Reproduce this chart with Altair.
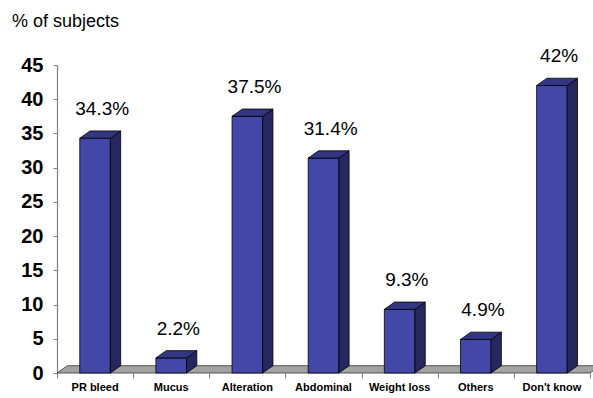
import altair as alt
import pandas as pd

# Symptoms reported, % of subjects
categories = ["PR bleed", "Mucus", "Alteration", "Abdominal", "Weight loss", "Others", "Don't know"]
percent = [34.3, 2.2, 37.5, 31.4, 9.3, 4.9, 42]
y_ticks = [0, 5, 10, 15, 20, 25, 30, 35, 40, 45]

FONT = "Liberation Sans, Arial, Helvetica, sans-serif"
FRONT = "#4348A8"
SIDE = "#25275E"
TOP = "#323683"
FLOOR = "#A3A3A3"
AXIS_GREY = "#7F7F7F"

W, H = 533, 308
N = len(categories)
Y_MAX = y_ticks[-1]
px_x = W / N          # pixels per category slot
px_y = H / Y_MAX      # pixels per percentage point

# 3D depth and bar half-width, converted from pixels into data units
DEPTH_X = 10.3 / px_x
DEPTH_Y = 7.3 / px_y
HALF = 15.3 / px_x

x_scale = alt.Scale(domain=[0, N], nice=False, zero=False)
y_scale = alt.Scale(domain=[0, Y_MAX], nice=False, zero=False)

# one axis definition shared by every layer so the merged axes keep it
X_AXIS = alt.Axis(
    values=list(range(N + 1)), labels=False, title=None, grid=False,
    domain=False, tickSize=5, tickColor=AXIS_GREY)
Y_AXIS = alt.Axis(
    values=y_ticks, title=None, grid=False, labelFont=FONT, labelFontSize=20,
    labelFontWeight="bold", labelColor="black", labelPadding=10, tickSize=4,
    tickColor=AXIS_GREY, domainColor=AXIS_GREY, domainWidth=1.2)

bars = pd.DataFrame({"cat": categories, "value": percent})
bars["mid"] = [i + 0.5 for i in range(N)]
bars["xl"] = bars["mid"] - HALF
bars["xr"] = bars["mid"] + HALF
bars["label"] = [f"{v:g}%" for v in percent]
bars["lx"] = bars["mid"] + DEPTH_X / 2 + 2 / px_x
bars["ly"] = bars["value"] + DEPTH_Y
bars["base"] = 0.0

# right-hand faces: vertical parallelograms
side_rows = []
for _, r in bars.iterrows():
    side_rows.append({"cat": r["cat"], "x": r["xr"], "lo": 0.0, "hi": r["value"]})
    side_rows.append({"cat": r["cat"], "x": r["xr"] + DEPTH_X, "lo": DEPTH_Y, "hi": r["value"] + DEPTH_Y})
side = pd.DataFrame(side_rows)

# top faces: horizontal parallelograms
top_rows = []
for _, r in bars.iterrows():
    top_rows.append({"cat": r["cat"], "y": r["value"], "x1": r["xl"], "x2": r["xr"]})
    top_rows.append({"cat": r["cat"], "y": r["value"] + DEPTH_Y, "x1": r["xl"] + DEPTH_X, "x2": r["xr"] + DEPTH_X})
top = pd.DataFrame(top_rows)

floor = pd.DataFrame({
    "y": [0.0, DEPTH_Y],
    "x1": [0.0, DEPTH_X],
    "x2": [float(N), N + DEPTH_X],
})

floor_layer = alt.Chart(floor).mark_area(
    orient="horizontal", fill=FLOOR, stroke="#333333", strokeWidth=0.8
).encode(
    y=alt.Y("y:Q", scale=y_scale, axis=Y_AXIS),
    x=alt.X("x1:Q", scale=x_scale, axis=X_AXIS),
    x2="x2:Q",
)

front_layer = alt.Chart(bars).mark_rect(
    fill=FRONT, stroke="black", strokeWidth=0.8
).encode(
    x=alt.X("xl:Q", scale=x_scale, axis=X_AXIS),
    x2="xr:Q",
    y=alt.Y("base:Q", scale=y_scale, axis=Y_AXIS),
    y2="value:Q",
)

side_layer = alt.Chart(side).mark_area(
    fill=SIDE, stroke="black", strokeWidth=0.8
).encode(
    x=alt.X("x:Q", scale=x_scale, axis=X_AXIS),
    y=alt.Y("hi:Q", scale=y_scale, axis=Y_AXIS),
    y2="lo:Q",
    detail="cat:N",
)

top_layer = alt.Chart(top).mark_area(
    orient="horizontal", fill=TOP, stroke="black", strokeWidth=0.8
).encode(
    y=alt.Y("y:Q", scale=y_scale, axis=Y_AXIS),
    x=alt.X("x1:Q", scale=x_scale, axis=X_AXIS),
    x2="x2:Q",
    detail="cat:N",
)

value_labels = alt.Chart(bars).mark_text(
    font=FONT, fontSize=19, color="black", baseline="alphabetic", dy=-16
).encode(
    x=alt.X("lx:Q", scale=x_scale, axis=X_AXIS),
    y=alt.Y("ly:Q", scale=y_scale, axis=Y_AXIS),
    text="label:N",
)

cat_labels = alt.Chart(bars).mark_text(
    font=FONT, fontSize=11, fontWeight="bold", color="black", baseline="alphabetic", dy=18
).encode(
    x=alt.X("mid:Q", scale=x_scale, axis=X_AXIS),
    y=alt.Y("base:Q", scale=y_scale, axis=Y_AXIS),
    text="cat:N",
)

y_title = alt.Chart(pd.DataFrame({"t": ["% of subjects"]})).mark_text(
    font=FONT, fontSize=18, color="black", align="left", baseline="alphabetic"
).encode(
    x=alt.value(-45),
    y=alt.value(-38),
    text="t:N",
)

chart = alt.layer(
    floor_layer, front_layer, side_layer, top_layer, value_labels, cat_labels, y_title
).properties(
    width=W, height=H,
    autosize=alt.AutoSizeParams(type="none"),
    padding={"left": 57, "top": 65, "right": 593 - 57 - W, "bottom": 398 - 65 - H},
    background="white",
).configure_view(stroke=None)

chart.save("out.html", embed_options={"renderer": "svg", "actions": False})
